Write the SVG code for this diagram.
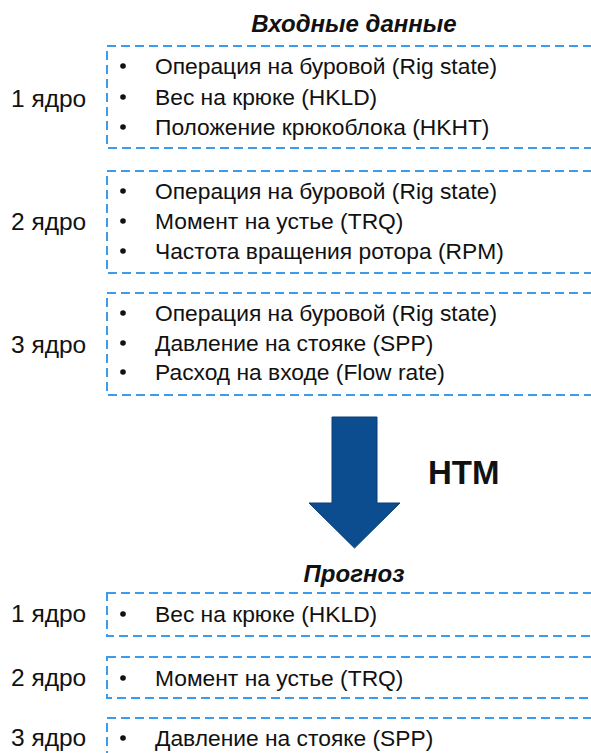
<svg xmlns="http://www.w3.org/2000/svg" width="591" height="753" viewBox="0 0 591 753">
<style>
.box{fill:none;stroke:#3d9bec;stroke-width:2;stroke-dasharray:9 5}
.t{font-family:"Liberation Sans",Arial,sans-serif;font-size:22.8px;fill:#111}
.lbl{font-family:"Liberation Sans",Arial,sans-serif;font-size:24.5px;fill:#111}
.h{font-family:"Liberation Sans",Arial,sans-serif;font-size:24px;font-weight:bold;font-style:italic;fill:#111}
.b{fill:#111}
</style>
<rect width="591" height="753" fill="#fff"/>
<text class="h" x="354" y="32" text-anchor="middle">Входные данные</text>
<g id="in1">
<rect class="box" x="107" y="46" width="500" height="102"/>
<text class="lbl" x="11" y="107">1 ядро</text>
<circle class="b" cx="123" cy="66" r="2.8"/><text class="t" x="155" y="74">Операция на буровой (Rig state)</text>
<circle class="b" cx="123" cy="97" r="2.8"/><text class="t" x="155" y="105">Вес на крюке (HKLD)</text>
<circle class="b" cx="123" cy="127" r="2.8"/><text class="t" x="155" y="135">Положение крюкоблока (HKHT)</text>
</g>
<g id="in2">
<rect class="box" x="107" y="171" width="500" height="102"/>
<text class="lbl" x="11" y="230">2 ядро</text>
<circle class="b" cx="123" cy="191" r="2.8"/><text class="t" x="155" y="199">Операция на буровой (Rig state)</text>
<circle class="b" cx="123" cy="221" r="2.8"/><text class="t" x="155" y="229">Момент на устье (TRQ)</text>
<circle class="b" cx="123" cy="251" r="2.8"/><text class="t" x="155" y="259">Частота вращения ротора (RPM)</text>
</g>
<g id="in3">
<rect class="box" x="107" y="293" width="500" height="102"/>
<text class="lbl" x="11" y="353">3 ядро</text>
<circle class="b" cx="123" cy="313" r="2.8"/><text class="t" x="155" y="321">Операция на буровой (Rig state)</text>
<circle class="b" cx="123" cy="343" r="2.8"/><text class="t" x="155" y="351">Давление на стояке (SPP)</text>
<circle class="b" cx="123" cy="372" r="2.8"/><text class="t" x="155" y="380">Расход на входе (Flow rate)</text>
</g>
<g id="connectors">
<path d="M332,417 H377 V503 H400 L354.5,548 L309,503 H332 Z" fill="#0b4d8e" stroke="#0a3f75" stroke-width="1"/>
</g>
<text x="428" y="484" font-family="'Liberation Sans',Arial,sans-serif" font-size="33" font-weight="bold" fill="#111">HTM</text>
<text class="h" x="354" y="582" text-anchor="middle">Прогноз</text>
<g id="out1">
<rect class="box" x="107" y="593" width="500" height="43"/>
<text class="lbl" x="11" y="622">1 ядро</text>
<circle class="b" cx="123" cy="614" r="2.8"/><text class="t" x="155" y="622">Вес на крюке (HKLD)</text>
</g>
<g id="out2">
<rect class="box" x="107" y="657" width="500" height="41"/>
<text class="lbl" x="11" y="686">2 ядро</text>
<circle class="b" cx="123" cy="678" r="2.8"/><text class="t" x="155" y="686">Момент на устье (TRQ)</text>
</g>
<g id="out3">
<rect class="box" x="107" y="718" width="500" height="60"/>
<text class="lbl" x="11" y="746">3 ядро</text>
<circle class="b" cx="123" cy="738" r="2.8"/><text class="t" x="155" y="746">Давление на стояке (SPP)</text>
</g>
</svg>
